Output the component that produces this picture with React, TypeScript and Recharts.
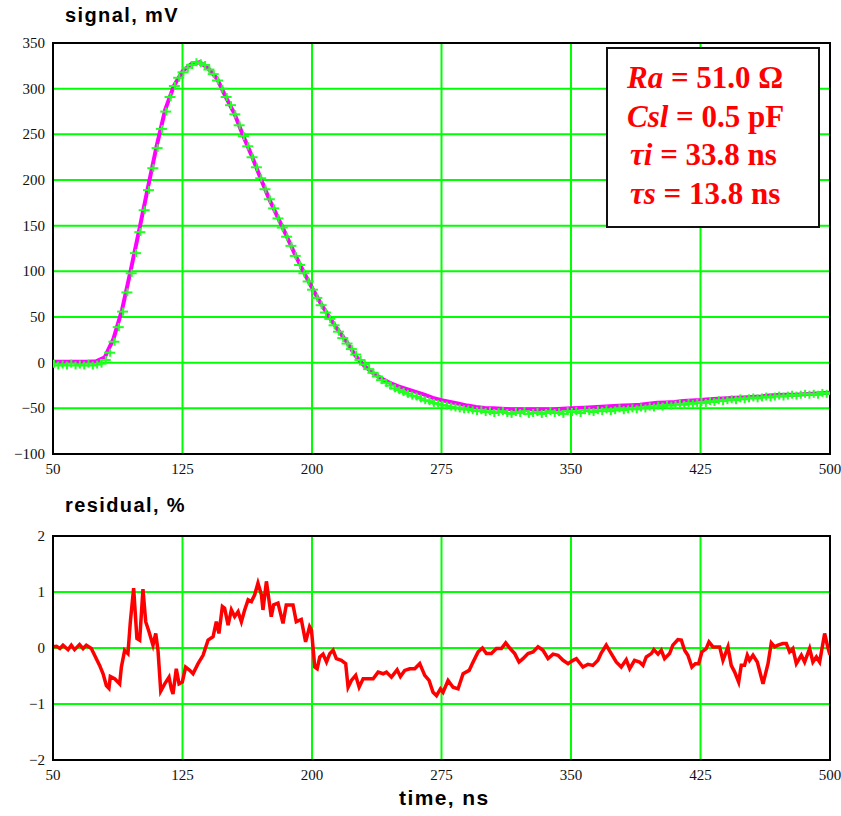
import * as React from 'react';
import {
  ComposedChart, LineChart, Line, Scatter, CartesianGrid, XAxis, YAxis, ReferenceArea,
} from 'recharts';

// measured signal, mV, sampled every 2.5 ns from 50 ns
const measuredMv = [
  0, -2, -1, -2, 0, -2, -1, -2, 0, -2,
  -1, 0, 4, 12, 24, 40, 57, 78, 99, 121,
  144, 168, 190, 214, 236, 257, 276, 292, 304, 313,
  319, 324, 327, 330, 329, 327, 322, 317, 310, 301,
  292, 283, 273, 261, 249, 238, 226, 215, 203, 191,
  180, 170, 159, 149, 139, 129, 118, 108, 99, 90,
  81, 72, 64, 56, 49, 42, 35, 28, 22, 16,
  10, 4, -1, -6, -10, -14, -18, -21, -24, -27,
  -29, -31, -33, -35, -36, -38, -40, -41, -43, -44,
  -45, -46, -47, -48, -49, -50, -50, -51, -52, -51,
  -53, -52, -54, -53, -52, -54, -55, -53, -54, -52,
  -55, -54, -53, -55, -54, -52, -54, -53, -55, -52,
  -53, -52, -54, -51, -52, -53, -51, -52, -50, -52,
  -51, -49, -51, -50, -49, -50, -48, -49, -47, -48,
  -46, -47, -45, -46, -45, -44, -45, -43, -44, -43,
  -42, -43, -41, -42, -40, -41, -40, -39, -40, -38,
  -39, -38, -37, -38, -37, -36, -37, -36, -35, -36,
  -35, -34, -35, -34, -33, -34, -33, -34, -32, -33,
  -32,
];

// model fit, mV, every 5 ns from 50 ns
const fitMv = [
  1, 1, 1, 1, 1, 1.5, 6, 26, 58, 101,
  146, 192, 237, 277, 303, 319, 327, 329, 322, 311,
  291, 273, 249, 227, 203, 180, 160, 140, 119, 100,
  82, 65, 50, 36, 23, 8, -3, -11, -17, -22,
  -26, -29, -32, -35, -38.5, -41, -43, -45, -47, -48.5,
  -49.5, -50, -50.5, -51, -51, -51, -51, -51, -51, -50.5,
  -50, -49.5, -49, -48.5, -48, -47.5, -47, -46.5, -46, -45,
  -44, -43.5, -43, -42, -41.5, -41, -40, -39.5, -39, -38.5,
  -38, -37.5, -37, -36, -35.5, -35, -35, -34.5, -34, -33.5,
  -33,
];

// residual, %
const residT = [
  50, 52, 54, 55.8, 58.7, 60.6, 62.5, 65.4, 67.4, 69.3, 72.2, 74.1, 77, 79, 80.9, 82.4, 83.2, 85.7, 88.6, 89.6,
  91.5, 93.4, 94.8, 96.7, 98.6, 100.2, 102.1, 103.7, 105.6, 107.9, 109.5, 110.8, 112.4, 114.7, 117.2, 118.5, 119.5, 121.4, 123, 124.9,
  126.8, 129.2, 131.1, 134, 136.9, 139.8, 142.7, 144.6, 146.1, 148.1, 149.4, 151.4, 153.3, 155.2, 157.2, 159.1, 161, 163, 164.9, 166.8,
  168.7, 170.7, 171.6, 173.6, 176.4, 177.8, 180.3, 183.2, 185.1, 189, 190.9, 193.8, 196.3, 198.6, 199.7, 201.6, 203, 204.5, 206.4, 208.4,
  210.3, 212.2, 214.1, 217, 219.5, 220.9, 222.8, 225.3, 227.3, 229.6, 232.5, 235.4, 238.3, 241.2, 243.1, 246, 249.3, 251.2, 253.7, 256.6,
  259.5, 262.4, 265.3, 267.8, 270.1, 272.1, 274.4, 275.9, 278.8, 281.7, 284.6, 287.5, 291, 293.3, 296.2, 298.7, 301, 303.9, 306.8, 309.7,
  312.2, 314.5, 317.4, 319.9, 322.2, 325.1, 328, 330.9, 333.8, 336.7, 339.6, 342.5, 345.4, 348.3, 351.2, 353.1, 356.9, 359.8, 362.7, 365.6,
  367.5, 370.4, 373.3, 376.2, 379.1, 382, 384, 386.8, 389.7, 391.7, 393.6, 396.5, 398, 400.4, 402.3, 404.2, 407.1, 409, 411.9, 413.9,
  415.8, 417.7, 420, 422, 423.9, 425.8, 428.3, 429.9, 432.2, 436.1, 438, 440.9, 442.8, 444.8, 447.1, 448.6, 450.5, 452.1, 453.4, 455.4,
  457.9, 461.2, 464.1, 466, 468, 469.9, 472.7, 474.7, 476.6, 478.5, 480.5, 483.4, 485.3, 488.2, 490.1, 492.1, 494, 496.9, 498.9, 500,
];
const residV = [
  0.02, 0.03, -0.01, 0.05, -0.03, 0.05, -0.03, 0.06, -0.01, 0.05, -0.01, -0.13, -0.31, -0.46, -0.67, -0.72, -0.51, -0.55, -0.64, -0.34,
  -0.04, -0.1, 0.47, 1.07, 0.17, 0.14, 1.05, 0.47, 0.29, 0.05, 0.26, -0.04, -0.77, -0.64, -0.52, -0.73, -0.82, -0.37, -0.64, -0.61,
  -0.34, -0.4, -0.46, -0.28, -0.13, 0.14, 0.2, 0.47, 0.26, 0.74, 0.71, 0.41, 0.68, 0.56, 0.65, 0.47, 0.68, 0.86, 0.83, 0.95,
  1.16, 0.95, 0.68, 1.19, 0.56, 0.77, 0.8, 0.44, 0.77, 0.77, 0.47, 0.51, 0.11, 0.38, 0.32, -0.34, -0.37, -0.16, -0.11, -0.25,
  -0.1, -0.04, -0.19, -0.22, -0.28, -0.7, -0.58, -0.49, -0.7, -0.55, -0.55, -0.55, -0.43, -0.46, -0.43, -0.52, -0.39, -0.51, -0.4, -0.37,
  -0.37, -0.28, -0.49, -0.58, -0.79, -0.85, -0.73, -0.79, -0.58, -0.7, -0.73, -0.46, -0.4, -0.25, -0.07, 0, -0.1, -0.1, -0.01, -0.01,
  0.09, 0, -0.1, -0.25, -0.19, -0.1, -0.07, 0.02, -0.04, -0.19, -0.11, -0.13, -0.22, -0.28, -0.22, -0.19, -0.34, -0.29, -0.31, -0.22,
  -0.09, 0.05, -0.1, -0.25, -0.34, -0.21, -0.37, -0.22, -0.25, -0.31, -0.16, -0.1, -0.03, -0.11, -0.04, -0.19, -0.1, 0.05, 0.15, 0.14,
  -0.04, -0.13, -0.34, -0.28, -0.28, -0.07, -0.01, 0.11, 0.02, 0.02, -0.22, 0.02, -0.31, -0.43, -0.61, -0.31, -0.31, -0.13, -0.22, -0.13,
  -0.25, -0.64, -0.28, 0.09, 0.02, 0.05, 0.08, 0.08, -0.07, -0.01, -0.28, -0.13, -0.25, -0.01, -0.25, -0.16, -0.25, 0.26, -0.01, -0.12,
];

const timeTicks = [50, 125, 200, 275, 350, 425, 500];
const signalTicks = [-100, -50, 0, 50, 100, 150, 200, 250, 300, 350];
const residTicks = [-2, -1, 0, 1, 2];
const fitLines = ['Ra = 51.0 Ω', 'Csl = 0.5 pF', 'τi = 33.8 ns', 'τs = 13.8 ns'];

const measured = measuredMv.map((v, i) => ({ t: 50 + i * 2.5, v }));
const fit = fitMv.map((v, i) => ({ t: 50 + i * 5, v }));
const residual = residT.map((t, i) => ({ t, r: residV[i] }));

const serif = '"Liberation Serif", "Times New Roman", serif';
const sans = '"Liberation Sans", Arial, sans-serif';
const minus = (v: number) => String(v).replace('-', '\u2212');

const XTick = (props: any) => {
  const { x, y, payload } = props;
  return (
    <text x={x} y={y + 12} textAnchor="middle" style={{ fontFamily: serif, fontSize: 15 }} fill="#111">
      {minus(payload.value)}
    </text>
  );
};
const YTick = (props: any) => {
  const { x, y, payload } = props;
  return (
    <text x={x} y={y + 5} textAnchor="end" style={{ fontFamily: serif, fontSize: 15 }} fill="#111">
      {minus(payload.value)}
    </text>
  );
};

const Plus = (props: any) => {
  const { cx, cy } = props;
  if (cx == null || cy == null) return null;
  return (
    <g stroke="#22ff22" strokeWidth={2}>
      <line x1={cx - 5} x2={cx + 6} y1={cy + 1} y2={cy + 1} />
      <line x1={cx + 1} x2={cx + 1} y1={cy - 3} y2={cy + 5} />
    </g>
  );
};

const titleStyle: React.CSSProperties = {
  position: 'absolute', fontFamily: sans, fontWeight: 'bold', fontSize: 20,
  letterSpacing: 1.4, color: '#000', whiteSpace: 'nowrap',
};

function Annotation() {
  return (
    <div style={{
      position: 'absolute', left: 606, top: 47, width: 210, height: 177,
      background: '#fff', border: '2px solid #111',
    }}>
      {fitLines.map((s, i) => {
        const [name, rest] = s.split(' = ');
        return (
          <div key={i} style={{
            position: 'absolute', left: 19 + (i > 1 ? 3 : 0), top: 10 + i * 38.5,
            fontFamily: serif, fontWeight: 'bold', fontSize: 31, color: '#ff0000',
            whiteSpace: 'nowrap', lineHeight: '38px',
          }}>
            <i>{name}</i> = {rest}
          </div>
        );
      })}
    </div>
  );
}

export default function App() {
  return (
    <div style={{ position: 'absolute', left: 0, top: 0, width: 841, height: 816, background: '#fff' }}>
      <div style={{ ...titleStyle, left: 65, top: 4 }}>signal, mV</div>
      <div style={{ position: 'absolute', left: 0, top: 0 }}>
        <ComposedChart width={841} height={480} margin={{ top: 43, right: 11, bottom: 6, left: 8 }}>
          <CartesianGrid stroke="#00ff00" strokeWidth={2} />
          <XAxis type="number" dataKey="t" domain={[50, 500]} ticks={timeTicks} interval={0}
            allowDataOverflow tickLine={false} height={20}
            axisLine={{ stroke: '#000', strokeWidth: 2 }} tick={<XTick />} />
          <YAxis type="number" dataKey="v" domain={[-100, 350]} ticks={signalTicks} interval={0}
            allowDataOverflow tickLine={false} width={45}
            axisLine={{ stroke: '#000', strokeWidth: 2 }} tick={<YTick />} />
          <ReferenceArea x1={50} x2={500} y1={-100} y2={350} fill="none" stroke="#000" strokeWidth={2} />
          <Scatter data={measured} dataKey="v" shape={Plus} isAnimationActive={false} />
          <Line data={fit} dataKey="v" type="linear" stroke="#ff00ff" strokeWidth={4}
            dot={false} activeDot={false} isAnimationActive={false} />
        </ComposedChart>
      </div>
      <Annotation />

      <div style={{ ...titleStyle, left: 65, top: 494 }}>residual, %</div>
      <div style={{ position: 'absolute', left: 0, top: 490 }}>
        <LineChart width={841} height={326} data={residual} margin={{ top: 46, right: 11, bottom: 36, left: 8 }}>
          <CartesianGrid stroke="#00ff00" strokeWidth={2} />
          <XAxis type="number" dataKey="t" domain={[50, 500]} ticks={timeTicks} interval={0}
            allowDataOverflow tickLine={false} height={20}
            axisLine={{ stroke: '#000', strokeWidth: 2 }} tick={<XTick />} />
          <YAxis type="number" domain={[-2, 2]} ticks={residTicks} interval={0}
            allowDataOverflow tickLine={false} width={45}
            axisLine={{ stroke: '#000', strokeWidth: 2 }} tick={<YTick />} />
          <ReferenceArea x1={50} x2={500} y1={-2} y2={2} fill="none" stroke="#000" strokeWidth={2} />
          <Line dataKey="r" type="linear" stroke="#ff0000" strokeWidth={3.5}
            dot={false} activeDot={false} isAnimationActive={false} />
        </LineChart>
      </div>
      <div style={{ ...titleStyle, left: 399, top: 786, fontSize: 21 }}>time, ns</div>
    </div>
  );
}
